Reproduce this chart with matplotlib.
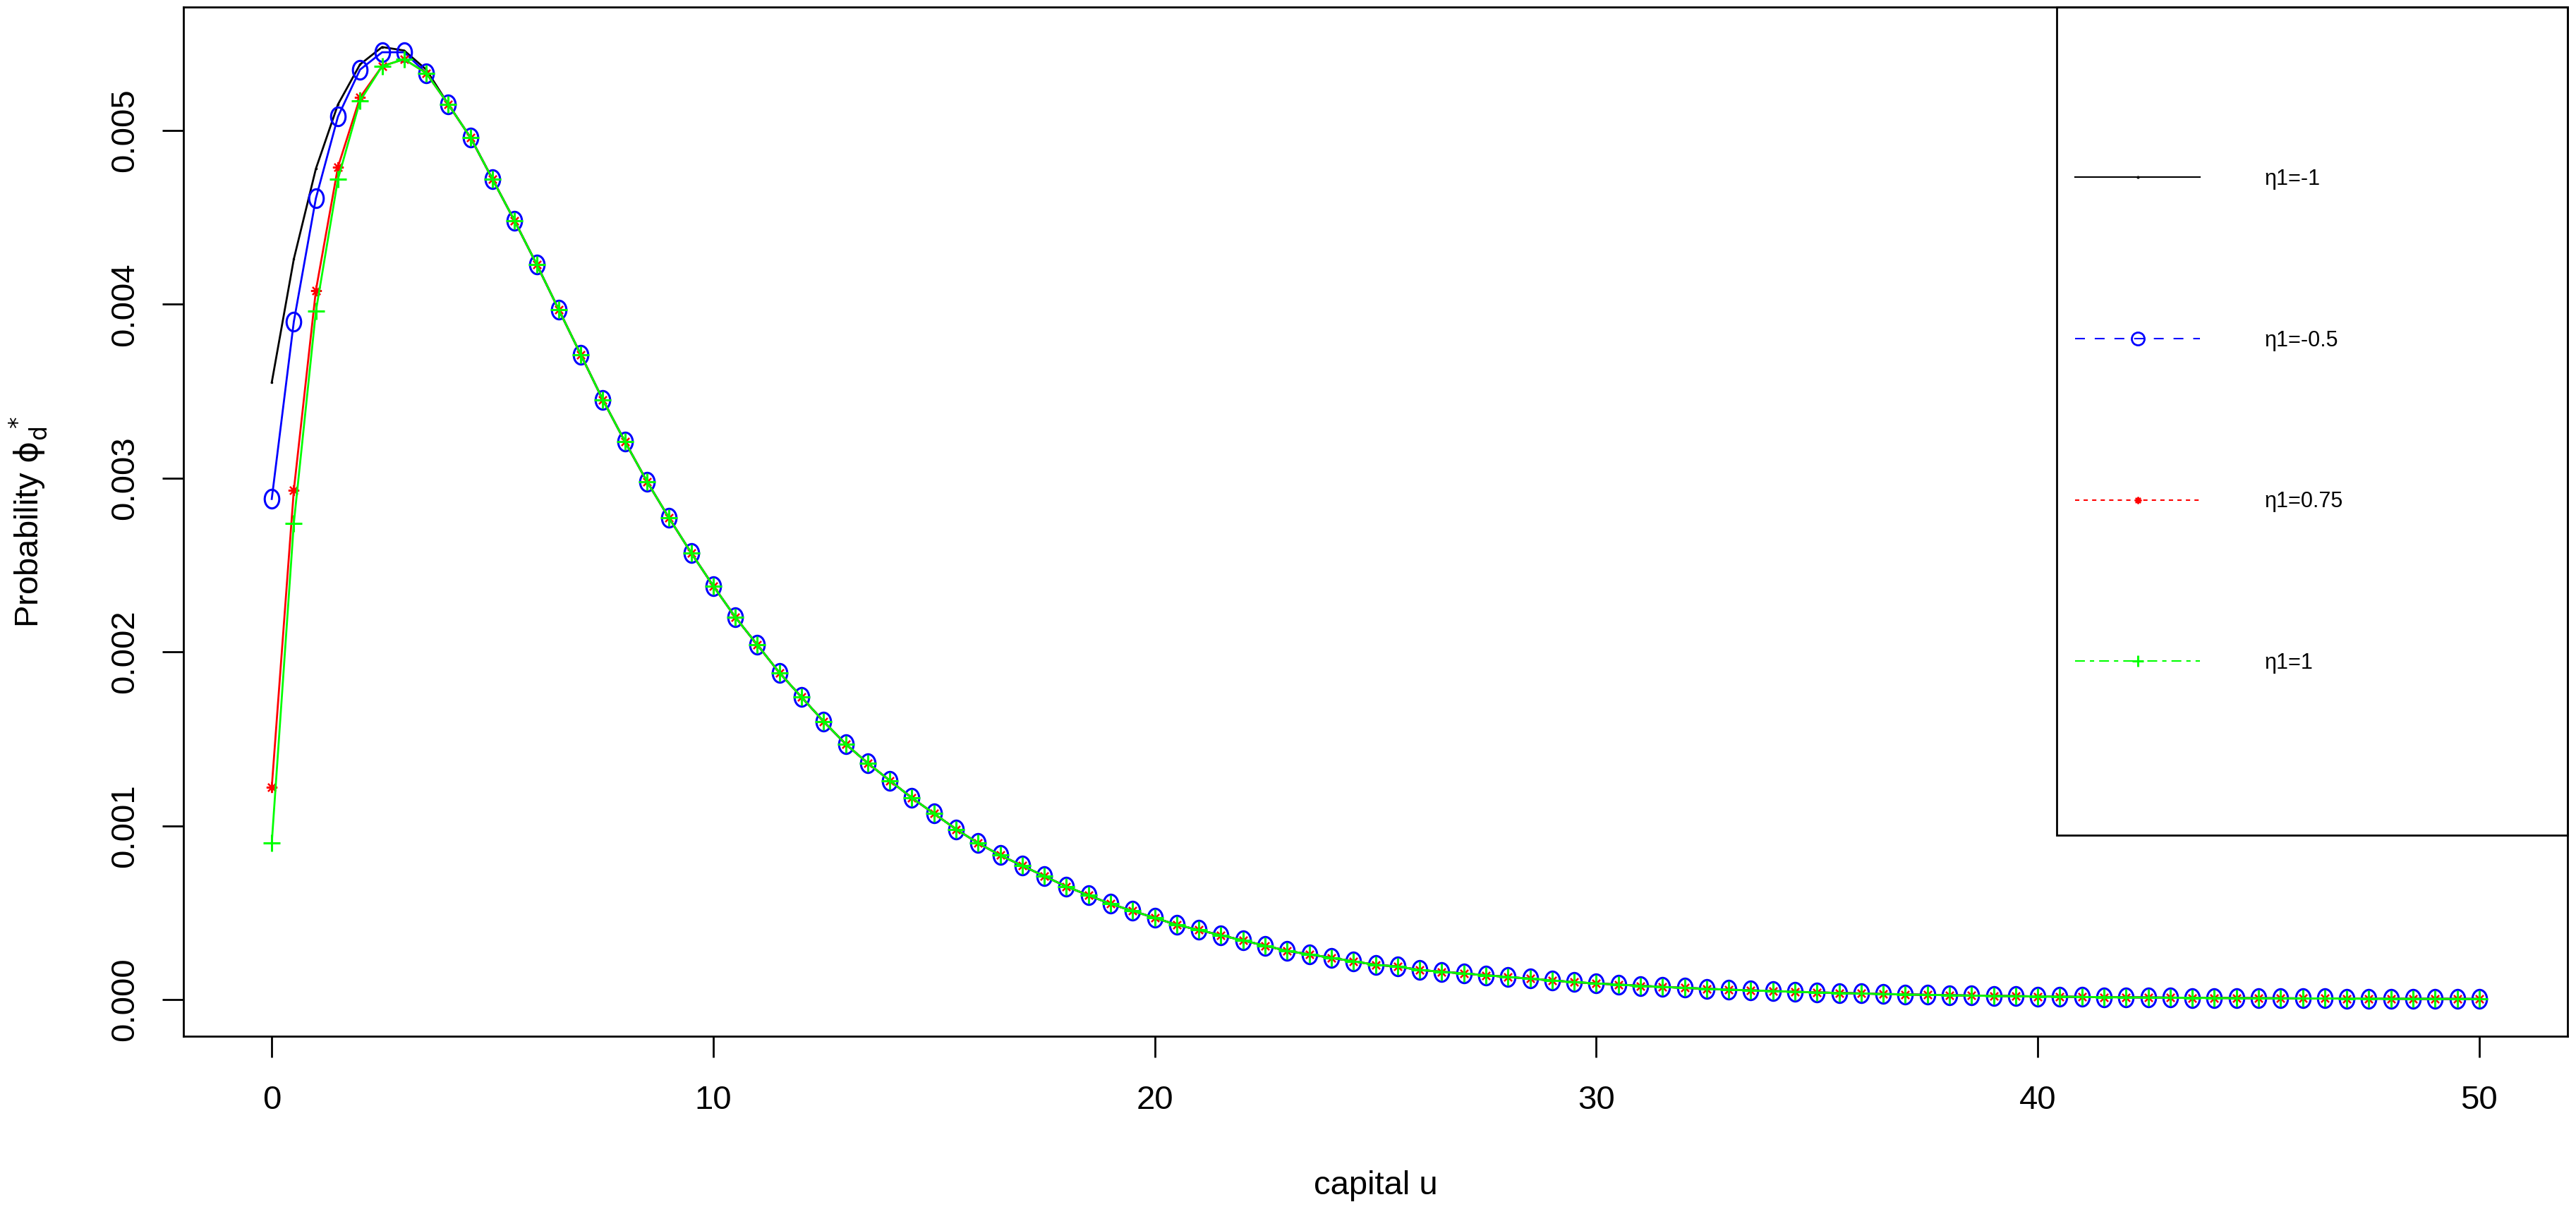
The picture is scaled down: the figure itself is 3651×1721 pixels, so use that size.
import numpy as np
import matplotlib

matplotlib.use('Agg')

import matplotlib.pyplot as plt
from matplotlib.path import Path
from matplotlib.transforms import Affine2D
from matplotlib.lines import Line2D
from matplotlib.patches import Rectangle
from matplotlib.ticker import FormatStrFormatter

plt.rcParams['font.family'] = ['Liberation Sans', 'DejaVu Sans']
plt.rcParams['mathtext.fontset'] = 'dejavusans'

# capital u, step 0.5
u = np.arange(0, 50.5, 0.5)

# first points (u = 0 .. 3.5) differ per eta1
head_m1 = [0.00355, 0.00426, 0.00478, 0.00515, 0.00538, 0.00548, 0.00546, 0.00535]
head_m05 = [0.00288, 0.00390, 0.00461, 0.00508, 0.00535, 0.00545, 0.00545, 0.00533]
head_075 = [0.00122, 0.00293, 0.00408, 0.00479, 0.00519, 0.00537, 0.00541, 0.00533]
head_1 = [0.00090, 0.00274, 0.00396, 0.00472, 0.00517, 0.00537, 0.00541, 0.00533]

# from u = 4 on the four curves lie on top of each other
tail = [0.00515, 0.00496, 0.00472, 0.00448, 0.00423, 0.00397, 0.00371, 0.00345, 0.00321, 0.00298,
        0.00277, 0.00257, 0.00238, 0.00220, 0.00204, 0.00188, 0.00174, 0.00160, 0.00147, 0.00136,
        0.00126, 0.00116, 0.00107, 0.00098, 0.00090, 0.00083, 0.00077, 0.00071, 0.00065, 0.00060,
        0.00055, 0.00051, 0.00047, 0.00043, 0.00040, 0.00037, 0.00034, 0.00031, 0.00028, 0.00026,
        0.00024, 0.00022, 0.00020, 0.00019, 0.00017, 0.00016, 0.00015, 0.00014, 0.00013, 0.00012,
        0.00011, 0.00010, 0.000093, 0.000086, 0.000079, 0.000073, 0.000067, 0.000062, 0.000057, 0.000053,
        0.000049, 0.000045, 0.000041, 0.000038, 0.000035, 0.000032, 0.000030, 0.000027, 0.000025, 0.000023,
        0.000021, 0.000020, 0.000018, 0.000017, 0.000015, 0.000014, 0.000013, 0.000012, 0.000011, 0.000010,
        0.0000093, 0.0000086, 0.0000079, 0.0000073, 0.0000067, 0.0000062, 0.0000057, 0.0000052, 0.0000048, 0.0000044,
        0.0000041, 0.0000038, 0.0000035]

phi_m1 = head_m1 + tail
phi_m05 = head_m05 + tail
phi_075 = head_075 + tail
phi_1 = head_1 + tail

labels = ['\u03b71=-1', '\u03b71=-0.5', '\u03b71=0.75', '\u03b71=1']
x_ticks = [0, 10, 20, 30, 40, 50]
y_ticks = [0.000, 0.001, 0.002, 0.003, 0.004, 0.005]

# slightly tall circle, like the stretched R output
ellipse = Path.unit_circle().transformed(Affine2D().scale(0.78, 1.0))

fig = plt.figure(figsize=(36.51, 17.21), dpi=100)
ax = fig.add_axes([260 / 3651, 1 - 1469 / 1721, 3379 / 3651, 1459 / 1721])

ax.plot(u, phi_m1, color='black', lw=2.0, marker='.', ms=3)
ax.plot(u, phi_m05, color='#0000ff', lw=2.0, marker=ellipse, ms=19, mfc='none', mec='#0000ff', mew=2.2)
ax.plot(u, phi_075, color='#ff0000', lw=2.0, marker=(8, 2, 0), ms=11, mec='#ff0000', mew=1.6)
ax.plot(u, phi_1, color='#00ff00', lw=2.0, marker='+', ms=17, mec='#00ff00', mew=2.2)

ax.set_xlim(-2, 52)
ax.set_ylim(-0.000211, 0.00571)
ax.set_xticks(x_ticks)
ax.set_yticks(y_ticks)
ax.yaxis.set_major_formatter(FormatStrFormatter('%.3f'))

for s in ax.spines.values():
    s.set_linewidth(2.0)
ax.tick_params(direction='out', length=21.5, width=2.0, labelsize=34)
ax.tick_params(axis='x', pad=28)
ax.tick_params(axis='y', pad=22, labelrotation=90)
for t in ax.get_yticklabels():
    t.set_va('center')

ax.set_xlabel('capital u', fontsize=34)
ax.xaxis.set_label_coords(0.5, (1469 - 1681) / 1459)
ax.xaxis.label.set_va('center')
ax.set_ylabel('Probability $\\mathrm{\\phi}_{\\mathrm{d}}^{\\ *}$', fontsize=34)
ax.yaxis.set_label_coords((40 - 260) / 3379, 0.5)
ax.yaxis.label.set_va('center')

# legend box
bx0 = (2915 - 260) / 3379
by0 = (1469 - 1184) / 1459
ax.add_patch(Rectangle((bx0, by0), 1 - bx0, 1 - by0, transform=ax.transAxes,
                       fill=False, edgecolor='black', lw=2.0, zorder=5, clip_on=False))

handles = [
    Line2D([], [], color='black', lw=1.5, ls='-', marker='.', ms=4),
    Line2D([], [], color='#0000ff', lw=1.5, ls=(0, (6.7, 6.7)), marker='o', ms=13, mfc='none', mew=2),
    Line2D([], [], color='#ff0000', lw=1.5, ls=(0, (2.9, 2.9)), marker=(8, 2, 0), ms=7, mew=1.5),
    Line2D([], [], color='#00ff00', lw=1.5, ls=(0, (6.7, 3.4, 2.9, 3.4)), marker='+', ms=12, mew=2.2),
]
ax.legend(handles, labels, loc='center left',
          bbox_to_anchor=((2941 - 260) / 3379, (by0 + 1) / 2),
          frameon=False, fontsize=22, handlelength=5.8, handletextpad=3.0,
          labelspacing=6.5, borderpad=0, borderaxespad=0)

plt.savefig('out.png', dpi=100)
